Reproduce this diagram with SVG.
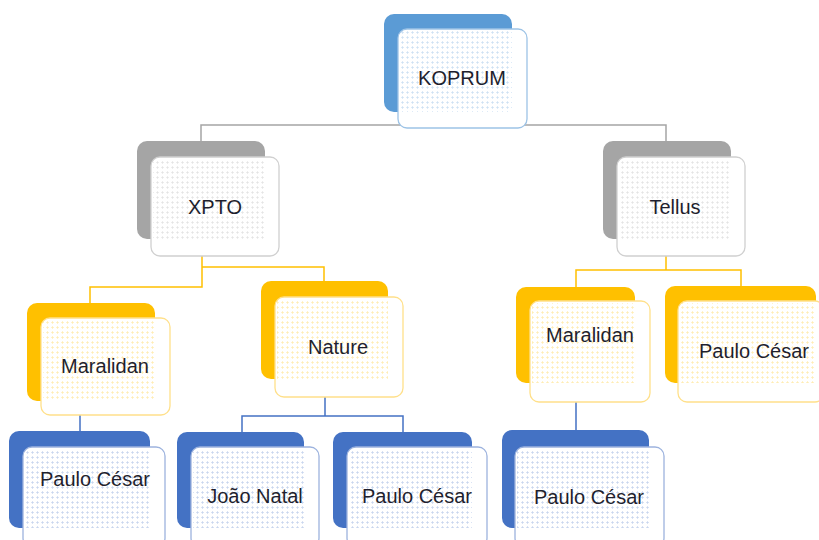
<svg xmlns="http://www.w3.org/2000/svg" width="819" height="540" viewBox="0 0 819 540">
<defs>
<pattern id="pB" width="5" height="5" patternUnits="userSpaceOnUse"><path d="M1 2.5h3M2.5 1v3" stroke="#5B9BD5" stroke-width="0.6" opacity="0.35"/></pattern>
<pattern id="pG" width="5" height="5" patternUnits="userSpaceOnUse"><path d="M1 2.5h3M2.5 1v3" stroke="#A5A5A5" stroke-width="0.6" opacity="0.35"/></pattern>
<pattern id="pY" width="5" height="5" patternUnits="userSpaceOnUse"><path d="M1 2.5h3M2.5 1v3" stroke="#FFC000" stroke-width="0.6" opacity="0.35"/></pattern>
<pattern id="pD" width="5" height="5" patternUnits="userSpaceOnUse"><path d="M1 2.5h3M2.5 1v3" stroke="#4472C4" stroke-width="0.6" opacity="0.35"/></pattern>
</defs>
<style>
text{font-family:"Liberation Sans",Arial,sans-serif;font-size:20px;fill:#1f1f2e;text-anchor:middle}
.c{fill:none;stroke-width:1.5}
.front{fill:#fff;stroke-width:1.3}
.blue .back{fill:#5B9BD5}.blue .front{stroke:#9DC3E6}.blue .tex{fill:url(#pB)}
.gray .back{fill:#A5A5A5}.gray .front{stroke:#D0D0D0}.gray .tex{fill:url(#pG)}
.yel .back{fill:#FFC000}.yel .front{stroke:#FFE08A}.yel .tex{fill:url(#pY)}
.dk .back{fill:#4472C4}.dk .front{stroke:#9DB3DE}.dk .tex{fill:url(#pD)}
</style>
<rect width="819" height="540" fill="#fff"/>
<g id="connectors">
<path class="c" stroke="#A5A5A5" d="M201,145V125H666V145"/>
<path class="c" stroke="#FFC000" d="M202,256V287H90V303M202,267H324V282"/>
<path class="c" stroke="#FFC000" d="M666,256V270H576V287M666,270H741V286"/>
<path class="c" stroke="#4472C4" d="M80,415V431M325,397V416H242V432M325,416H403V432M576,402V430"/>
</g>
<g id="koprum" class="blue">
<rect class="back" x="384" y="14" width="128" height="98" rx="10"/>
<rect class="front" x="398" y="29" width="129" height="99" rx="9"/>
<rect class="tex" x="400" y="31" width="112" height="81"/>
<text x="462" y="85">KOPRUM</text>
</g>
<g id="xpto" class="gray">
<rect class="back" x="137" y="141" width="128" height="98" rx="10"/>
<rect class="front" x="151" y="157" width="128" height="99" rx="9"/>
<rect class="tex" x="153" y="159" width="112" height="80"/>
<text x="215" y="214">XPTO</text>
</g>
<g id="tellus" class="gray">
<rect class="back" x="603" y="141" width="128" height="98" rx="10"/>
<rect class="front" x="617" y="157" width="128" height="99" rx="9"/>
<rect class="tex" x="619" y="159" width="112" height="80"/>
<text x="675" y="214">Tellus</text>
</g>
<g id="maralidan-left" class="yel">
<rect class="back" x="27" y="303" width="128" height="98" rx="10"/>
<rect class="front" x="41" y="318" width="129" height="97" rx="9"/>
<rect class="tex" x="43" y="320" width="112" height="81"/>
<text x="105" y="373">Maralidan</text>
</g>
<g id="nature" class="yel">
<rect class="back" x="261" y="281" width="127" height="98" rx="10"/>
<rect class="front" x="275" y="297" width="128" height="100" rx="9"/>
<rect class="tex" x="277" y="299" width="111" height="80"/>
<text x="338" y="354">Nature</text>
</g>
<g id="maralidan-right" class="yel">
<rect class="back" x="516" y="287" width="119" height="96" rx="10"/>
<rect class="front" x="530" y="301" width="120" height="101" rx="9"/>
<rect class="tex" x="532" y="303" width="103" height="80"/>
<text x="590" y="342">Maralidan</text>
</g>
<g id="paulo-cesar-right" class="yel">
<rect class="back" x="665" y="286" width="151" height="97" rx="10"/>
<rect class="front" x="678" y="301" width="146" height="101" rx="9"/>
<rect class="tex" x="680" y="303" width="136" height="80"/>
<text x="754" y="358">Paulo César</text>
</g>
<g id="paulo-cesar-1" class="dk">
<rect class="back" x="9" y="431" width="141" height="97" rx="10"/>
<rect class="front" x="23" y="447" width="142" height="100" rx="9"/>
<rect class="tex" x="25" y="449" width="125" height="79"/>
<text x="95" y="486">Paulo César</text>
</g>
<g id="joao-natal" class="dk">
<rect class="back" x="177" y="432" width="127" height="96" rx="10"/>
<rect class="front" x="191" y="447" width="128" height="100" rx="9"/>
<rect class="tex" x="193" y="449" width="111" height="79"/>
<text x="255" y="503">João Natal</text>
</g>
<g id="paulo-cesar-2" class="dk">
<rect class="back" x="333" y="432" width="139" height="96" rx="10"/>
<rect class="front" x="347" y="447" width="140" height="100" rx="9"/>
<rect class="tex" x="349" y="449" width="123" height="79"/>
<text x="417" y="503">Paulo César</text>
</g>
<g id="paulo-cesar-3" class="dk">
<rect class="back" x="502" y="430" width="147" height="98" rx="10"/>
<rect class="front" x="515" y="447" width="149" height="100" rx="9"/>
<rect class="tex" x="517" y="449" width="132" height="79"/>
<text x="589" y="504">Paulo César</text>
</g>
</svg>
